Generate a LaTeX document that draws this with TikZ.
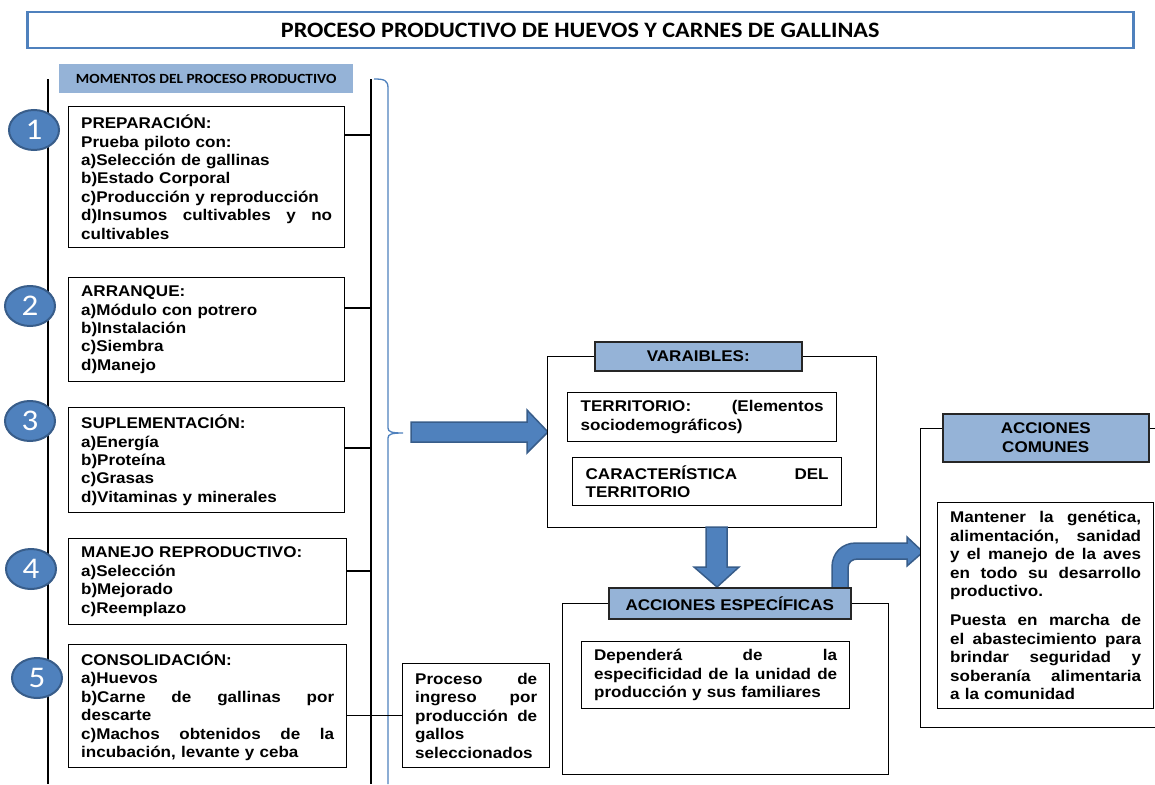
\documentclass[tikz,border=0pt]{standalone}
\usepackage{fontspec}
\newfontfamily\bodyf{Liberation Sans}[FakeStretch=1.1]
\newfontfamily\calf{Carlito}[FakeStretch=1.1]
\usetikzlibrary{shapes.geometric,calc}
\definecolor{obl}{HTML}{4F81BD}
\definecolor{obd}{HTML}{385D8A}
\definecolor{hdrc}{HTML}{95B3D7}
\tikzset{
  txtbox/.style={draw=black, line width=1.3pt, fill=white, inner xsep=12.5pt, inner ysep=0pt,
    anchor=north west, align=left, font={\bodyf\bfseries\fontsize{15.5}{18.4}\selectfont}},
  frame/.style={draw=black, line width=1.3pt, fill=white, anchor=north west, inner sep=0pt},
  hdr/.style={draw=black!85, line width=1.5pt, fill=hdrc, anchor=north west, inner sep=0pt,
    align=center, font={\bodyf\bfseries\fontsize{15.5}{18.4}\selectfont}},
  num/.style={ellipse, draw=obd, line width=2pt, fill=obl, minimum width=50pt, minimum height=40pt,
    inner sep=0pt, text=white, font={\calf\fontsize{30}{30}\selectfont}},
  conn/.style={draw=black, line width=1.2pt},
  vline/.style={draw=black, line width=1.5pt},
  blockarrow/.style={fill=obl, draw=obd, line width=1.5pt, line join=miter},
  bracestyle/.style={draw=obl, line width=1.3pt},
}
\begin{document}
\begin{tikzpicture}[x=1pt, y=-1pt]
\useasboundingbox (0,0) rectangle (1155,784);
\clip (0,0) rectangle (1155,784);

% title
\node[draw=obl, line width=2.5pt, minimum width=1106pt, minimum height=36pt, anchor=north west,
  inner sep=0pt, font={\calf\bfseries\fontsize{22}{22}\selectfont}] (title) at (26,11)
  {PROCESO PRODUCTIVO DE HUEVOS Y CARNES DE GALLINAS};

% moments header
\node[fill=hdrc, minimum width=294pt, minimum height=29pt, anchor=north west, inner sep=0pt,
  font={\calf\bfseries\fontsize{14}{14}\selectfont}] (mom) at (59,64) {MOMENTOS DEL PROCESO PRODUCTIVO};

% vertical lines
\coordinate (Ltop) at (48,79);
\coordinate (Lbot) at (48,784);
\coordinate (Rtop) at (371,79);
\coordinate (Rbot) at (371,784);
\draw[vline] (Ltop) -- (Lbot);
\draw[vline] (Rtop) -- (Rbot);

% brace
\coordinate (brA) at (374,79);
\coordinate (brTip) at (403,433);
\coordinate (brB) at (388,784);
\draw[bracestyle] (brA) .. controls (384,79) and (388,80) .. (388,88) -- (388,428)
  .. controls (388,432) and (392,433) .. (brTip)
  .. controls (392,433) and (388,434) .. (388,438) -- (brB);

% left boxes
\node[txtbox, text width=251pt, minimum height=141pt] (b1) at (68,106) {%
PREPARACIÓN:\\
Prueba piloto con:\\
a)Selección de gallinas\\
b)Estado Corporal\\
c)Producción y reproducción\\
d)Insumos\hfill cultivables\hfill y\hfill no\\
cultivables};

\node[txtbox, text width=251pt, minimum height=104pt] (b2) at (68,277) {%
ARRANQUE:\\
a)Módulo con potrero\\
b)Instalación\\
c)Siembra\\
d)Manejo};

\node[txtbox, text width=251pt, minimum height=105pt] (b3) at (68,407) {%
SUPLEMENTACIÓN:\\
a)Energía\\
b)Proteína\\
c)Grasas\\
d)Vitaminas y minerales};

\node[txtbox, text width=253pt, minimum height=86pt] (b4) at (68,538) {%
MANEJO REPRODUCTIVO:\\
a)Selección\\
b)Mejorado\\
c)Reemplazo};

\node[txtbox, text width=253pt, minimum height=123pt] (b5) at (68,644) {%
CONSOLIDACIÓN:\\
a)Huevos\\
b)Carne\hfill de\hfill gallinas\hfill por\\
descarte\\
c)Machos\hfill obtenidos\hfill de\hfill la\\
incubación, levante y ceba};

\node[txtbox, text width=122pt, minimum height=104pt] (proc) at (402,663) {%
Proceso\hfill de\\
ingreso\hfill por\\
producción\hfill de\\
gallos\\
seleccionados};

% connectors to the vertical line
\coordinate (k1) at (0,135);
\coordinate (k2) at (0,308);
\coordinate (k3) at (0,448);
\coordinate (k4) at (0,571);
\draw[conn] (b1.east |- k1) -- (Rtop |- k1);
\draw[conn] (b2.east |- k2) -- (Rtop |- k2);
\draw[conn] (b3.east |- k3) -- (Rtop |- k3);
\draw[conn] (b4.east |- k4) -- (Rtop |- k4);
\draw[conn] (b5.east |- proc.west) -- (proc.west);

% numbered ellipses
\node[num] (c1) at (34,130) {1};
\node[num] (c2) at (30,306) {2};
\node[num] (c3) at (30,421) {3};
\node[num] (c4) at (31,569) {4};
\node[num] (c5) at (37,678) {5};

% right arrow
\draw[blockarrow] (411,422) -- (527,422) -- (527,410) -- (548,432) -- (527,453) -- (527,442) -- (411,442) -- cycle;

% variables group
\node[frame, minimum width=329pt, minimum height=171pt] (var) at (547,356) {};
\node[hdr, minimum width=207pt, minimum height=29pt] (varh) at (594,341) {VARAIBLES:};
\node[txtbox, inner xsep=13pt, text width=243pt, minimum height=49pt] (terr) at (567,392) {%
TERRITORIO:\hfill (Elementos\\
sociodemográficos)};
\node[txtbox, inner xsep=13pt, text width=243pt, minimum height=48pt] (car) at (572,457) {%
CARACTERÍSTICA\hfill DEL\\
TERRITORIO};

% down arrow
\draw[blockarrow] (706,527) -- (706,567) -- (694,567) -- (717,587) -- (739,567) -- (727,567) -- (727,527) -- cycle;

% specific actions group
\node[frame, minimum width=326pt, minimum height=171pt] (esp) at (562,603) {};
% curved arrow
\draw[blockarrow] (832,588) -- (832,567) .. controls (832,553) and (842,543) .. (856,543) -- (907,543)
  -- (907,537) -- (923,552) -- (907,566) -- (907,559) -- (858,559)
  .. controls (852,559) and (848,562) .. (848,568) -- (848,588) -- cycle;
\node[hdr, minimum width=242pt, minimum height=31pt] (esph) at (608,587) {ACCIONES ESPECÍFICAS};
\node[txtbox, text width=243pt, minimum height=67pt] (dep) at (581,641) {%
Dependerá\hfill de\hfill la\\
especificidad\hfill de\hfill la\hfill unidad\hfill de\\
producción y sus familiares};

% common actions group
\node[frame, minimum width=260pt, minimum height=299pt] (com) at (920,428) {};
\node[hdr, minimum width=206pt, minimum height=48pt] (comh) at (942,413) {ACCIONES\\COMUNES};
\node[txtbox, text width=191pt, minimum height=206pt] (comt) at (937,502) {%
Mantener\hfill la\hfill genética,\\
alimentación,\hfill sanidad\\
y\hfill el\hfill manejo\hfill de\hfill la\hfill aves\\
en\hfill todo\hfill su\hfill desarrollo\\
productivo.\\[11pt]
Puesta\hfill en\hfill marcha\hfill de\\
el\hfill abastecimiento\hfill para\\
brindar\hfill seguridad\hfill y\\
soberanía\hfill alimentaria\\
a la comunidad};
\end{tikzpicture}
\end{document}
